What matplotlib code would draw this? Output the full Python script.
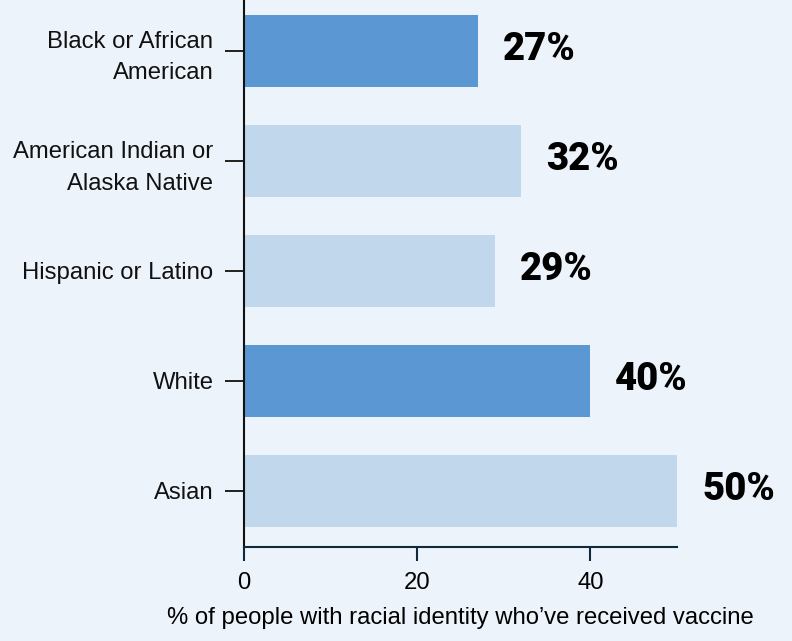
import matplotlib.pyplot as plt

# Data (bottom to top)
groups = ["Asian", "White", "Hispanic or Latino",
          "American Indian or\nAlaska Native", "Black or African\nAmerican"]
values = [50, 40, 29, 32, 27]
highlight = [False, True, False, False, True]

bg = "#EDF3FA"
dark_blue = "#5B97D3"
light_blue = "#C0D7EC"

plt.rcParams["font.family"] = ["Liberation Sans", "DejaVu Sans"]

fig = plt.figure(figsize=(7.92, 6.41), dpi=100, facecolor=bg)
ax = fig.add_axes([0.3081, 0.1466, 0.5467, 0.8534], facecolor=bg)

colors = [dark_blue if h else light_blue for h in highlight]
pos = list(range(len(groups)))
ax.barh(pos, values, height=0.655, color=colors)

# Value labels
for y, v in zip(pos, values):
    ax.annotate(f"{v}%", (v, y), xytext=(18, 1), textcoords="offset points",
                ha="left", va="center", fontsize=27.5, fontweight="black",
                fontstretch="condensed", family=["Roboto", "DejaVu Sans"])

ax.set_xlim(0, 50)
ax.set_ylim(-0.51, 4.46)
ax.set_xticks([0, 20, 40])
ax.set_yticks(pos)
ax.set_yticklabels(groups, fontsize=17.2, ha="right", linespacing=1.55)
ax.tick_params(axis="y", length=14, width=1.3, pad=8, colors="#111111")
ax.tick_params(axis="x", length=10, width=1.5, pad=8, labelsize=17.2,
               color="#0f2a3f")

for side in ["top", "right"]:
    ax.spines[side].set_visible(False)
ax.spines["left"].set_linewidth(1.5)
ax.spines["bottom"].set_linewidth(1.5)
ax.spines["left"].set_color("#111111")
ax.spines["bottom"].set_color("#0f2a3f")

ax.set_xlabel("% of people with racial identity who\u2019ve received vaccine",
              fontsize=17.2, labelpad=9)

fig.savefig("out.png", dpi=100, facecolor=bg)
